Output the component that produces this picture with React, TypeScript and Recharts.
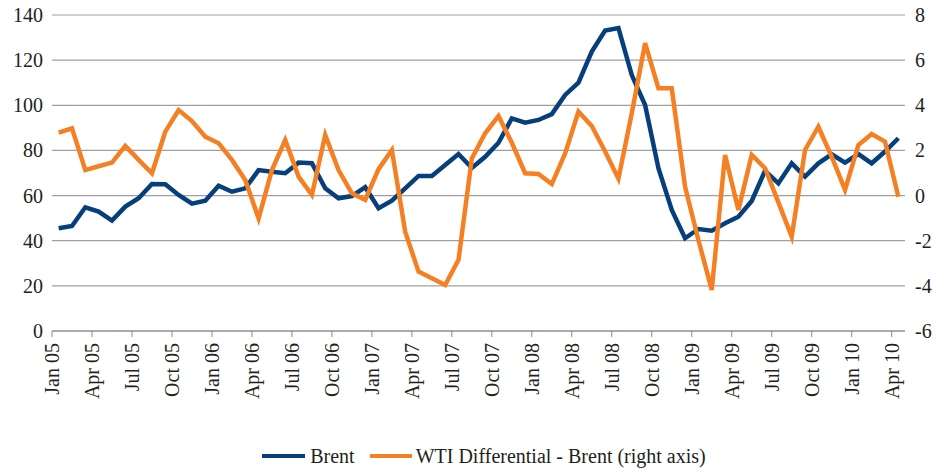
import { LineChart, Line, XAxis, YAxis, CartesianGrid, Legend } from 'recharts'

const FONT = 'Liberation Serif'
const BLUE = '#073f7c'
const ORANGE = '#f58024'
const TEXT = '#231f20'

// monthly, Jan 05 .. Apr 10
const brent = [
  45.5, 46.5, 54.8, 52.9, 48.9, 55.1, 58.8, 65.1, 65.0, 60.3, 56.4, 57.7,
  64.4, 61.7, 63.2, 71.3, 70.6, 69.9, 74.6, 74.3, 63.2, 58.8, 59.8, 63.7,
  54.4, 57.7, 63.2, 68.7, 68.7, 73.5, 78.4, 72.2, 77.2, 83.4, 94.2, 92.3,
  93.5, 96.1, 104.6, 110.0, 123.8, 133.1, 134.2, 113.4, 100.1, 72.1, 53.6, 41.1,
  45.2, 44.4, 47.7, 50.6, 57.6, 71.0, 65.4, 74.3, 68.4, 74.3, 78.3, 74.6,
  78.4, 74.3, 79.5, 85.4,
]

const wtiDiff = [
  2.79, 2.98, 1.13, 1.3, 1.46, 2.2, 1.58, 0.99, 2.83, 3.79, 3.3, 2.61,
  2.32, 1.58, 0.69, -1.01, 1.13, 2.46, 0.84, 0.03, 2.68, 1.13, 0.1, -0.19,
  1.17, 2.02, -1.6, -3.37, -3.66, -3.96, -2.85, 1.65, 2.76, 3.53, 2.34, 0.99,
  0.96, 0.51, 1.87, 3.72, 3.08, 1.95, 0.75, 3.65, 6.75, 4.75, 4.75, 0.39,
  -1.97, -4.18, 1.8, -0.64, 1.8, 1.21, -0.3, -1.82, 2.02, 3.05, 1.72, 0.25,
  2.24, 2.73, 2.39, -0.05,
]

const tickLabels = [
  'Jan 05', 'Apr 05', 'Jul 05', 'Oct 05', 'Jan 06', 'Apr 06', 'Jul 06', 'Oct 06',
  'Jan 07', 'Apr 07', 'Jul 07', 'Oct 07', 'Jan 08', 'Apr 08', 'Jul 08', 'Oct 08',
  'Jan 09', 'Apr 09', 'Jul 09', 'Oct 09', 'Jan 10', 'Apr 10',
]

const leftTicks = [0, 20, 40, 60, 80, 100, 120, 140]
const rightTicks = [-6, -4, -2, 0, 2, 4, 6, 8]

const data = brent.map((b, i) => ({ x: i + 0.5, brent: b, wti: wtiDiff[i] }))
const xTicks = tickLabels.map((_, i) => i * 3)

const MonthTick = ({ x, payload }: any) => (
  <text transform={`translate(${x},343) rotate(-90)`} textAnchor="end" dy="0.35em"
    fontFamily={FONT} fontSize={20} fill={TEXT} style={{ fontFamily: FONT }}>
    {tickLabels[payload.value / 3]}
  </text>
)

const LeftTick = ({ y, payload }: any) => (
  <text x={43} y={y} textAnchor="end" dy="0.35em" fontFamily={FONT} fontSize={20} fill={TEXT} style={{ fontFamily: FONT }}>
    {payload.value}
  </text>
)

const RightTick = ({ y, payload }: any) => (
  <text x={915} y={y} textAnchor="start" dy="0.35em" fontFamily={FONT} fontSize={20} fill={TEXT} style={{ fontFamily: FONT }}>
    {payload.value}
  </text>
)

const renderLegend = () => (
  <div style={{ display: 'flex', justifyContent: 'center', alignItems: 'center', height: 30, paddingLeft: 24, fontFamily: FONT, fontSize: 20, color: TEXT }}>
    <span style={{ display: 'inline-block', width: 43, height: 4, background: BLUE, marginRight: 5 }} />
    <span style={{ marginRight: 15 }}>Brent</span>
    <span style={{ display: 'inline-block', width: 42, height: 4, background: ORANGE, marginRight: 4 }} />
    <span>WTI Differential - Brent (right axis)</span>
  </div>
)

export default function App() {
  return (
    <div style={{ position: 'absolute', left: 0, top: 0, width: 944, height: 475, background: '#fff', fontFamily: FONT }}>
      <LineChart width={944} height={475} data={data} margin={{ top: 15, right: 0, bottom: 0, left: 0 }} style={{ fontFamily: FONT }}>
        <CartesianGrid yAxisId="left" vertical={false} stroke="#a0a0a0" strokeWidth={1.2} />
        <XAxis
          dataKey="x"
          type="number"
          domain={[0, 64]}
          ticks={xTicks}
          interval={0}
          height={114}
          stroke="#888"
          tickSize={6}
          tick={<MonthTick />}
        />
        <YAxis yAxisId="left" domain={[0, 140]} ticks={leftTicks} width={52} axisLine={false} tickLine={false} tick={<LeftTick />} />
        <YAxis yAxisId="right" orientation="right" domain={[-6, 8]} ticks={rightTicks} width={39} axisLine={false} tickLine={false} tick={<RightTick />} />
        <Legend verticalAlign="bottom" content={renderLegend} wrapperStyle={{ left: 0, width: 944, top: 441, height: 30 }} />
        <Line yAxisId="left" dataKey="brent" name="Brent" stroke={BLUE} strokeWidth={4.5} dot={false} isAnimationActive={false} />
        <Line yAxisId="right" dataKey="wti" name="WTI Differential - Brent (right axis)" stroke={ORANGE} strokeWidth={4.5} dot={false} isAnimationActive={false} />
      </LineChart>
    </div>
  )
}
